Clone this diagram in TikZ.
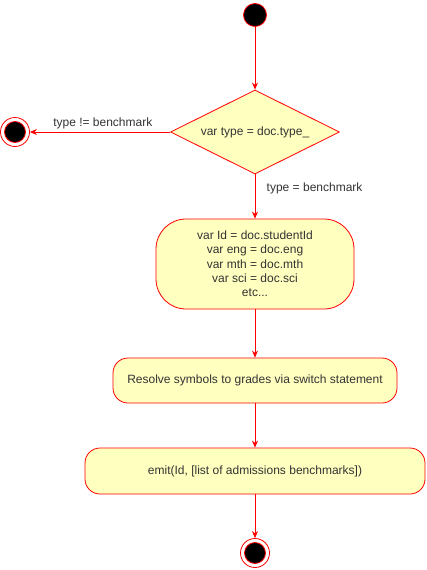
\documentclass[tikz,border=0pt]{standalone}
\usepackage{fontspec}
\setmainfont{Liberation Sans}
\usetikzlibrary{shapes.geometric,arrows.meta}
\definecolor{umlred}{HTML}{FF0000}
\definecolor{umlfill}{HTML}{FFFFC0}
\definecolor{umltext}{HTML}{333333}
\begin{document}
\begin{tikzpicture}[x=1pt,y=-1pt,
    font=\fontsize{12}{14.3}\selectfont, text=umltext, line width=0.8pt,
    >={Stealth[length=7pt,width=6pt]}]

      \useasboundingbox (0,0) rectangle (426,570);

      \begin{scope}[every node/.style={draw=umlred, inner sep=0pt}]
        \node[circle, fill=black, minimum size=23] (start) at (255,15) {};
        \node[diamond, shape aspect=2, fill=umlfill, minimum width=169, minimum height=84] (test) at (255,132) {var type = doc.type\_};
        \node[circle, fill=white, minimum size=29,
              path picture={\filldraw[draw=umlred, fill=black] (path picture bounding box.center) circle (10.5);}] (stop1) at (15,132) {};
        \node[rounded corners=30, fill=umlfill, minimum width=198, minimum height=90, align=center] (vars) at (255,264)
          {var Id = doc.studentId\\var eng = doc.eng\\var mth = doc.mth\\var sci = doc.sci\\etc...};
        \node[rounded corners=15, fill=umlfill, minimum width=284, minimum height=45] (resolve) at (255,380.5)
          {Resolve symbols to grades via switch statement};
        \node[rounded corners=15, fill=umlfill, minimum width=340, minimum height=46] (emit) at (255,471)
          {emit(Id, [list of admissions benchmarks])};
        \node[circle, fill=white, minimum size=29,
              path picture={\filldraw[draw=umlred, fill=black] (path picture bounding box.center) circle (10.5);}] (stop2) at (255,553) {};
      \end{scope}

      \begin{scope}[every edge/.style={draw=umlred, ->}]
        \path (start) edge (test);
        \path (test)  edge node[pos=.48, anchor=south, inner sep=3pt] {type != benchmark} (stop1);
        \path (test)  edge node[pos=.31, anchor=west, xshift=8pt] {type = benchmark} (vars);
        \path (vars)  edge (resolve);
        \path (resolve) edge (emit);
        \path (emit)  edge (stop2);
      \end{scope}

    \end{tikzpicture}
\end{document}
